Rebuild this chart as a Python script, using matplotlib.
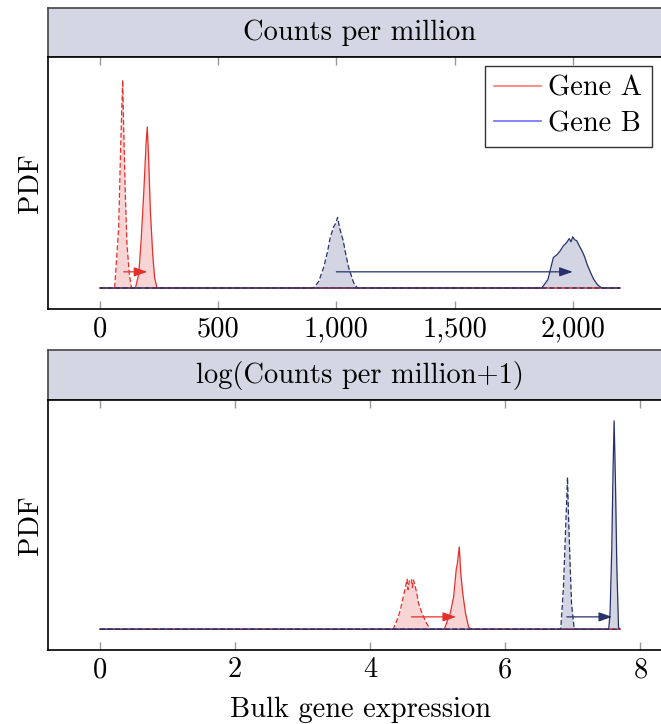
import matplotlib
matplotlib.use("Agg")
import matplotlib.pyplot as plt
from matplotlib.lines import Line2D

plt.rcParams['font.family'] = ['cmr10', 'DejaVu Serif']
plt.rcParams['axes.formatter.use_mathtext'] = True
plt.rcParams['mathtext.fontset'] = 'cm'

# ---------------- data ----------------
panel_titles = ["Counts per million", "log(Counts per million+1)"]
xlabel = "Bulk gene expression"
ylabel = "PDF"
legend_labels = ["Gene A", "Gene B"]

# top panel (CPM)
cpm_ticks = [0, 500, 1000, 1500, 2000]
cpm_ticklabels = ["0", "500", "1,000", "1,500", "2,000"]
cpm_xmax = 2200

geneA_before_x = [0, 62, 79, 86, 92, 96, 100, 107, 114, 124, 133, 2200]
geneA_before_y = [0, 0, 0.29, 0.61, 0.85, 0.99, 0.77, 0.45, 0.21, 0.067, 0, 0]
geneA_after_x = [0, 150, 164, 174, 185, 195, 200, 206, 213, 223, 231, 241, 2200]
geneA_after_y = [0, 0, 0.067, 0.225, 0.45, 0.69, 0.767, 0.61, 0.37, 0.16, 0.05, 0, 0]
geneB_before_x = [0, 903, 925, 946, 962, 974, 988, 998, 1005, 1015, 1029, 1040, 1052, 1073, 1089, 2200]
geneB_before_y = [0, 0, 0.03, 0.097, 0.17, 0.24, 0.29, 0.31, 0.336, 0.28, 0.225, 0.16, 0.097, 0.025, 0, 0]
geneB_after_x = [0, 1869, 1895, 1918, 1935, 1947, 1960, 1975, 1985, 1993, 2000, 2008, 2017, 2028, 2039, 2050, 2060, 2075, 2088, 2105, 2123, 2200]
geneB_after_y = [0, 0, 0.04, 0.145, 0.16, 0.177, 0.2, 0.217, 0.235, 0.22, 0.244, 0.23, 0.225, 0.2, 0.177, 0.15, 0.115, 0.075, 0.043, 0.015, 0, 0]

# bottom panel (log CPM + 1)
log_ticks = [0, 2, 4, 6, 8]
log_ticklabels = ["0", "2", "4", "6", "8"]
log_xmax = 7.697

lgeneA_before_x = [0, 4.34, 4.395, 4.445, 4.494, 4.52, 4.545, 4.56, 4.58, 4.61, 4.625, 4.64, 4.67, 4.69, 4.716, 4.766, 4.83, 4.89, 7.697]
lgeneA_before_y = [0, 0, 0.043, 0.09, 0.163, 0.2, 0.24, 0.19, 0.235, 0.24, 0.2, 0.236, 0.2, 0.17, 0.123, 0.077, 0.03, 0, 0]
lgeneA_after_x = [0, 5.096, 5.185, 5.234, 5.274, 5.29, 5.318, 5.34, 5.37, 5.41, 5.457, 5.49, 7.697]
lgeneA_after_y = [0, 0, 0.077, 0.155, 0.29, 0.316, 0.395, 0.27, 0.17, 0.077, 0.01, 0, 0]
lgeneB_before_x = [0, 6.82, 6.86, 6.886, 6.91, 6.92, 6.935, 6.96, 6.98, 7.02, 7.697]
lgeneB_before_y = [0, 0, 0.2, 0.43, 0.64, 0.729, 0.54, 0.30, 0.12, 0, 0]
lgeneB_after_x = [0, 7.53, 7.55, 7.575, 7.595, 7.61, 7.63, 7.65, 7.675, 7.69, 7.697]
lgeneB_after_y = [0, 0, 0.077, 0.38, 0.78, 1.0, 0.7, 0.3, 0.01, 0, 0]

# arrows (start, end, height)
cpm_arrowA = (100, 200, 0.077)
cpm_arrowB = (1000, 2000, 0.077)
log_arrowA = (4.61, 5.27, 0.059)
log_arrowB = (6.91, 7.58, 0.059)

# ---------------- styles ----------------
RED = '#e4302a'
NAVY = '#27306a'
RED_FILL = '#f9d4d4'
NAVY_FILL = '#d3d6e2'
TITLE_FILL = '#d4d7e3'
LEG_RED = '#ff7878'
LEG_BLUE = '#6e6eff'
FS = 20.5

W, H = 661, 724
fig = plt.figure(figsize=(W / 100, H / 100), dpi=100)


def fx(px):
    return px / W


def fy(py):
    return 1 - py / H


left_px, right_px = 48, 672


def make_panel(title, top_box, bot_box, bot_ax):
    tax = fig.add_axes([fx(left_px), fy(bot_box), fx(right_px - left_px), (bot_box - top_box) / H])
    tax.set_facecolor(TITLE_FILL)
    tax.set_xticks([])
    tax.set_yticks([])
    for s in tax.spines.values():
        s.set_color('#444444')
        s.set_linewidth(1.2)
    tax.text(0.5, 0.5, title, ha='center', va='center', fontsize=FS, transform=tax.transAxes)
    ax = fig.add_axes([fx(left_px), fy(bot_ax), fx(right_px - left_px), (bot_ax - bot_box) / H])
    for s in ax.spines.values():
        s.set_linewidth(1.2)
    return ax


def draw_curve(ax, xs, ys, line, fill, ls):
    ax.fill_between(xs, 0, ys, color=fill, lw=0, zorder=1)
    if ls == '--':
        ax.plot(xs, ys, color=line, lw=0.9, ls='--', dashes=(4, 2), zorder=3)
    else:
        ax.plot(xs, ys, color=line, lw=0.9, zorder=3)


def draw_arrow(ax, arr, color):
    x0, x1, h = arr
    ax.annotate('', xy=(x1, h), xytext=(x0, h),
                arrowprops=dict(arrowstyle='-|>,head_length=0.8,head_width=0.28', color=color, lw=0.9,
                                shrinkA=0, shrinkB=0), zorder=4)


def style_axes(ax, xmax, ticks, labels):
    ax.set_xlim(-0.1 * xmax, 1.1 * xmax)
    ax.set_ylim(-0.1, 1.1)
    ax.set_yticks([])
    ax.set_xticks(ticks)
    ax.set_xticklabels(labels, fontsize=FS)
    ax.tick_params(axis='x', direction='in', length=6, width=1.0, color='#999999', top=True, pad=5)
    ax.set_ylabel(ylabel, fontsize=FS, labelpad=3)


# top panel
ax1 = make_panel(panel_titles[0], 8, 57, 309)
draw_curve(ax1, geneA_before_x, geneA_before_y, RED, RED_FILL, '--')
draw_curve(ax1, geneA_after_x, geneA_after_y, RED, RED_FILL, '-')
draw_curve(ax1, geneB_after_x, geneB_after_y, NAVY, NAVY_FILL, '-')
draw_curve(ax1, geneB_before_x, geneB_before_y, NAVY, NAVY_FILL, '--')
draw_arrow(ax1, cpm_arrowA, RED)
draw_arrow(ax1, cpm_arrowB, NAVY)
style_axes(ax1, cpm_xmax, cpm_ticks, cpm_ticklabels)
handles = [Line2D([], [], color=LEG_RED, lw=1.2), Line2D([], [], color=LEG_BLUE, lw=1.2)]
leg = ax1.legend(handles, legend_labels, loc='upper right', bbox_to_anchor=(fx(652), fy(66)),
                 bbox_transform=fig.transFigure, fontsize=FS, fancybox=False, framealpha=1,
                 edgecolor='#333333', borderpad=0.33, handlelength=1.65, handletextpad=0.25,
                 labelspacing=0.32, borderaxespad=0)
leg.get_frame().set_linewidth(1.0)

# bottom panel
ax2 = make_panel(panel_titles[1], 350, 400, 650)
draw_curve(ax2, lgeneA_before_x, lgeneA_before_y, RED, RED_FILL, '--')
draw_curve(ax2, lgeneA_after_x, lgeneA_after_y, RED, RED_FILL, '-')
draw_curve(ax2, lgeneB_after_x, lgeneB_after_y, NAVY, NAVY_FILL, '-')
draw_curve(ax2, lgeneB_before_x, lgeneB_before_y, NAVY, NAVY_FILL, '--')
draw_arrow(ax2, log_arrowA, RED)
draw_arrow(ax2, log_arrowB, NAVY)
style_axes(ax2, log_xmax, log_ticks, log_ticklabels)
ax2.set_xlabel(xlabel, fontsize=FS, labelpad=10)

fig.savefig('out.png', dpi=100)
